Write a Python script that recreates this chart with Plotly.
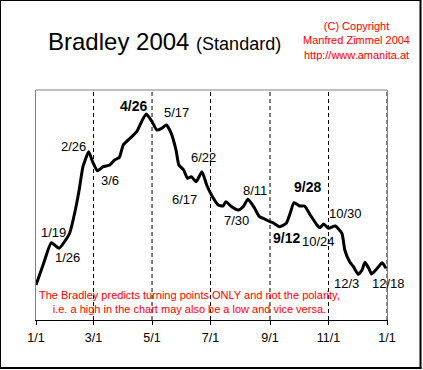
import numpy as np
import pandas as pd
import plotly.graph_objects as go

# ---------------- data ----------------
dates = [
    "2004-01-01", "2004-01-09", "2004-01-17", "2004-01-25", "2004-02-05", "2004-02-11",
    "2004-02-15", "2004-02-19", "2004-02-25", "2004-02-29", "2004-03-05", "2004-03-11",
    "2004-03-18", "2004-03-23", "2004-03-28", "2004-04-01", "2004-04-08", "2004-04-15",
    "2004-04-20", "2004-04-25", "2004-05-01", "2004-05-06", "2004-05-11", "2004-05-16",
    "2004-05-21", "2004-05-26", "2004-05-29", "2004-06-03", "2004-06-07", "2004-06-11",
    "2004-06-16", "2004-06-22", "2004-06-27", "2004-07-02", "2004-07-09", "2004-07-14",
    "2004-07-17", "2004-07-23", "2004-07-30", "2004-08-04", "2004-08-09", "2004-08-15",
    "2004-08-21", "2004-08-27", "2004-09-01", "2004-09-04", "2004-09-11", "2004-09-18",
    "2004-09-22", "2004-09-26", "2004-10-02", "2004-10-07", "2004-10-13", "2004-10-20",
    "2004-10-23", "2004-10-27", "2004-11-01", "2004-11-08", "2004-11-15", "2004-11-18",
    "2004-11-23", "2004-11-27", "2004-12-02", "2004-12-06", "2004-12-09", "2004-12-13",
    "2004-12-16", "2004-12-21", "2004-12-27", "2004-12-31",
]
values = [
    35.0, 56.7, 77.3, 71.7, 86.7, 110.0,
    130.0, 153.3, 168.3, 158.3, 149.3, 153.3,
    155.0, 160.0, 162.7, 175.0, 181.7, 188.3,
    198.3, 206.0, 198.3, 190.0, 191.7, 195.0,
    186.7, 170.0, 155.0, 150.0, 141.7, 143.3,
    138.3, 148.3, 135.0, 125.0, 115.0, 114.0,
    118.3, 113.3, 110.0, 113.3, 120.7, 113.3,
    103.3, 100.7, 98.3, 97.3, 93.3, 96.7,
    106.7, 117.3, 114.0, 114.0, 105.0, 95.0,
    92.3, 96.0, 91.7, 94.0, 86.7, 70.0,
    58.3, 53.3, 45.7, 50.0, 57.7, 51.7,
    46.0, 50.7, 57.3, 51.7,
]
turning_labels = ["1/19", "1/26", "2/26", "3/6", "4/26", "5/17", "6/17", "6/22",
                  "7/30", "8/11", "9/12", "9/28", "10/24", "10/30", "12/3", "12/18"]
bold_labels = ["4/26", "9/12", "9/28"]
tick_dates = ["2004-01-01", "2004-03-01", "2004-05-01", "2004-07-01",
              "2004-09-01", "2004-11-01", "2005-01-01"]
tick_text = ["1/1", "3/1", "5/1", "7/1", "9/1", "11/1", "1/1"]

title_main = "Bradley 2004"
title_sub = "(Standard)"
copyright_lines = ["(C) Copyright", "Manfred Zimmel 2004", "http://www.amanita.at"]
note_lines = ["The Bradley predicts turning points ONLY and not the polarity,",
              "i.e. a high in the chart may also be a low and vice versa."]

# ---------------- layout helpers ----------------
FONT = "Liberation Sans, Arial, sans-serif"
x_dt = pd.to_datetime(dates)
base = pd.Timestamp("2004-01-01")
day_num = np.array([(d - base).days for d in x_dt], dtype=float)

# pixel offsets of each label from its turning point
label_offsets = {
    "1/19": (0, 12), "1/26": (8, -11), "2/26": (-16, 8), "3/6": (12, -10),
    "4/26": (-14, 9), "5/17": (9, 14), "6/17": (-13, -19), "6/22": (2, 14),
    "7/30": (-2, -10), "8/11": (5, 11), "9/12": (6, -11.5), "9/28": (12, 17),
    "10/24": (-2, -15), "10/30": (19, 13.5), "12/3": (-13, -10), "12/18": (15, -11),
}

fig = go.Figure()
fig.add_trace(go.Scatter(
    x=x_dt, y=values, mode="lines",
    line=dict(color="black", width=3, shape="spline", smoothing=0.5),
    hoverinfo="skip", showlegend=False,
))

annotations = []
for lab in turning_labels:
    m, d = [int(p) for p in lab.split("/")]
    ld = pd.Timestamp(2004, m, d)
    yv = float(np.interp((ld - base).days, day_num, values))
    dx, dy = label_offsets[lab]
    bold = lab in bold_labels
    annotations.append(dict(
        x=ld, y=yv, xref="x", yref="y", text=f"<b>{lab}</b>" if bold else lab,
        showarrow=False, xshift=dx, yshift=dy, xanchor="center", yanchor="middle",
        font=dict(family=FONT, size=14 if bold else 13, color="black"),
    ))

# title
annotations.append(dict(
    x=0.0276, y=1.213, xref="paper", yref="paper", xanchor="left", yanchor="middle",
    text=f"{title_main} <span style='font-size:18px'>{title_sub}</span>",
    showarrow=False, font=dict(family=FONT, size=24, color="black"),
))
# copyright
annotations.append(dict(
    x=0.9145, y=1.217, xref="paper", yref="paper", xanchor="center", yanchor="middle",
    text="<br>".join(copyright_lines), showarrow=False, align="center",
    font=dict(family=FONT, size=11, color="red"),
))
# note
annotations.append(dict(
    x=0.438, y=0.078, xref="paper", yref="paper", xanchor="center", yanchor="middle",
    text="<br>".join(note_lines), showarrow=False, align="center",
    font=dict(family=FONT, size=11, color="red"),
))

shapes = []
for td in tick_dates[1:]:
    shapes.append(dict(type="line", xref="x", yref="paper", x0=td, x1=td, y0=0, y1=1,
                       line=dict(color="black", width=1, dash="4px,3px"), layer="above"))
# top frame line
shapes.append(dict(type="line", xref="paper", yref="paper", x0=0, x1=1, y0=1, y1=1,
                   line=dict(color="#808080", width=1), layer="above"))


def px_x(p):
    return (p - 36) / 351


def px_y(p):
    return (320 - p) / 230


# outer border: thin top/left, slightly heavier right/bottom
shapes.append(dict(type="line", xref="paper", yref="paper", x0=px_x(0.5), x1=px_x(0.5),
                   y0=px_y(0), y1=px_y(369), line=dict(color="black", width=1)))
shapes.append(dict(type="line", xref="paper", yref="paper", x0=px_x(0), x1=px_x(421),
                   y0=px_y(0.5), y1=px_y(0.5), line=dict(color="black", width=1)))
shapes.append(dict(type="line", xref="paper", yref="paper", x0=px_x(420.5), x1=px_x(420.5),
                   y0=px_y(0), y1=px_y(369), line=dict(color="black", width=2)))
shapes.append(dict(type="line", xref="paper", yref="paper", x0=px_x(0), x1=px_x(421.5),
                   y0=px_y(368), y1=px_y(368), line=dict(color="black", width=2)))

fig.update_layout(
    width=423, height=370,
    margin=dict(l=36, r=36, t=90, b=50),
    paper_bgcolor="white", plot_bgcolor="white",
    annotations=annotations, shapes=shapes,
    xaxis=dict(
        type="date", range=["2004-01-01", "2005-01-01"],
        tickvals=tick_dates, ticktext=tick_text,
        ticks="outside", ticklen=4, tickcolor="black", tickwidth=1,
        showline=True, linecolor="black", linewidth=1,
        showgrid=False, zeroline=False, ticklabelstandoff=2,
        tickfont=dict(family=FONT, size=12.5, color="black"),
    ),
    yaxis=dict(
        range=[0, 230], showline=True, linecolor="#808080", linewidth=1, mirror=True,
        showticklabels=False, ticks="", showgrid=False, zeroline=False,
    ),
)

fig.write_html("out.html", config={"displayModeBar": False},
               post_script="document.body.style.margin='0px';document.body.style.overflow='hidden';")
